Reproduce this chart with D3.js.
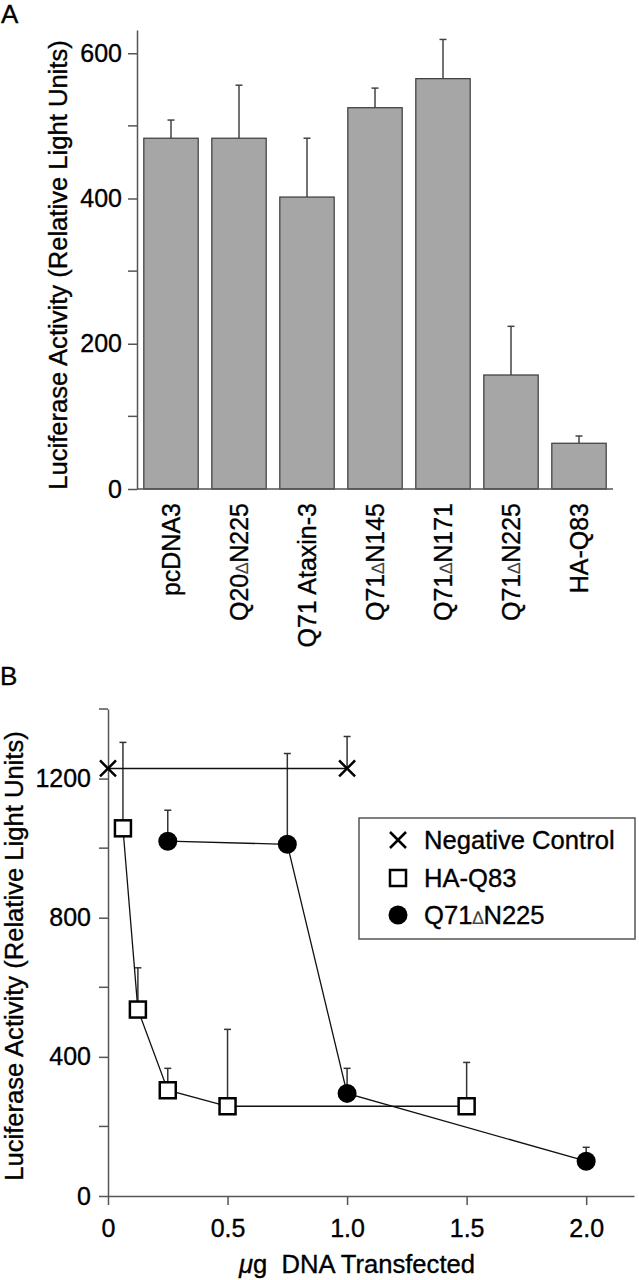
<!DOCTYPE html>
<html><head><meta charset="utf-8">
<script src="https://cdn.jsdelivr.net/npm/d3@7"></script>
<style>
body{margin:0;background:#fff;}
svg{display:block;font-family:"Liberation Sans",Arial,Helvetica,sans-serif;}
svg text{stroke:#000;stroke-width:0.35px;}
</style></head>
<body>
<svg id="chart" width="639" height="1280"></svg>
<script>
// ---------- Panel A data ----------
const categoriesA = ["pcDNA3", "Q20ΔN225", "Q71 Ataxin-3", "Q71ΔN145", "Q71ΔN171", "Q71ΔN225", "HA-Q83"];
const valuesA = [483, 483, 402, 525, 565, 157, 63];
const errTopA = [508, 556, 483, 552, 619, 224, 73];
const yTicksA = [0, 200, 400, 600];
const yMinorA = [100, 300, 500];

// ---------- Panel B data ----------
const negX = [0, 1.0];
const negY = [1229, 1229];
const negErrTop = [1229, 1321];
const haX = [0.0625, 0.125, 0.25, 0.5, 1.5];
const haY = [1057, 536, 304, 258, 258];
const haErrTop = [1304, 656, 367, 479, 384];
const qX = [0.25, 0.75, 1.0, 2.0];
const qY = [1020, 1011, 295, 100];
const qErrTop = [1109, 1272, 367, 140];
const xTicksB = [0, 0.5, 1.0, 1.5, 2.0];
const xTickLabelsB = ["0", "0.5", "1.0", "1.5", "2.0"];
const yTicksB = [0, 400, 800, 1200];
const yMinorB = [200, 600, 1000, 1400];
const legendLabels = ["Negative Control", "HA-Q83", "Q71ΔN225"];

const svg = d3.select("#chart");
svg.append("rect").attr("width", 639).attr("height", 1280).attr("fill", "#fff");
const axisCol = "#555";
const FS = 25;

// helper: write text with smaller Δ
function richText(sel, str) {
  const parts = str.split("Δ");
  parts.forEach((p, i) => {
    if (i > 0) sel.append("tspan").attr("font-size", 18).attr("fill", "#444").style("stroke-width", "0.1px").text("∆");
    sel.append("tspan").text(p);
  });
}

// ================= PANEL A =================
const xA = d3.scaleBand().domain(categoriesA).range([137, 613]).paddingInner(0.2).paddingOuter(0.1);
const yA = d3.scaleLinear().domain([0, 632]).range([489, 30]);

svg.append("text").attr("x", 1).attr("y", 23).attr("font-size", 26).text("A");

// bars
const gA = svg.append("g");
gA.selectAll("line.err").data(categoriesA).enter().append("line")
  .attr("x1", d => xA(d) + xA.bandwidth() / 2).attr("x2", d => xA(d) + xA.bandwidth() / 2)
  .attr("y1", (d, i) => yA(valuesA[i])).attr("y2", (d, i) => yA(errTopA[i]))
  .attr("stroke", "#444").attr("stroke-width", 1.5);
gA.selectAll("line.cap").data(categoriesA).enter().append("line")
  .attr("x1", d => xA(d) + xA.bandwidth() / 2 - 3.5).attr("x2", d => xA(d) + xA.bandwidth() / 2 + 3.5)
  .attr("y1", (d, i) => yA(errTopA[i])).attr("y2", (d, i) => yA(errTopA[i]))
  .attr("stroke", "#444").attr("stroke-width", 1.5);
gA.selectAll("rect.bar").data(categoriesA).enter().append("rect")
  .attr("x", d => xA(d)).attr("width", xA.bandwidth())
  .attr("y", (d, i) => yA(valuesA[i])).attr("height", (d, i) => yA(0) - yA(valuesA[i]))
  .attr("fill", "#a6a6a6").attr("stroke", "#3a3a3a").attr("stroke-width", 1.2);

// y axis A
const axA = svg.append("g").attr("transform", "translate(137,0)")
  .call(d3.axisLeft(yA).tickValues(yTicksA).tickSize(9).tickSizeOuter(0).tickPadding(6).tickFormat(d3.format("d")));
axA.select(".domain").attr("stroke", axisCol).attr("stroke-width", 1.5);
axA.selectAll(".tick line").attr("stroke", axisCol).attr("stroke-width", 1.5);
axA.selectAll(".tick text").attr("font-size", FS).attr("font-family", "Liberation Sans, Arial, sans-serif").attr("fill", "#000");
svg.append("g").selectAll("line").data(yMinorA).enter().append("line")
  .attr("x1", 128).attr("x2", 137).attr("y1", d => yA(d)).attr("y2", d => yA(d))
  .attr("stroke", axisCol).attr("stroke-width", 1.5);
// x axis line A
svg.append("line").attr("x1", 137).attr("x2", 613).attr("y1", yA(0)).attr("y2", yA(0))
  .attr("stroke", axisCol).attr("stroke-width", 1.5);

// category labels
categoriesA.forEach(c => {
  const cx = xA(c) + xA.bandwidth() / 2;
  const t = svg.append("text").attr("transform", `translate(${cx},503) rotate(-90)`)
    .attr("text-anchor", "end").attr("dy", "0.35em").attr("font-size", FS);
  richText(t, c);
});

// y title A
svg.append("text").attr("transform", "translate(67,265) rotate(-90)")
  .attr("text-anchor", "middle").attr("font-size", 25.6)
  .text("Luciferase Activity (Relative Light Units)");

// ================= PANEL B =================
const xB = d3.scaleLinear().domain([0, 2.2]).range([108, 634]);
const yB = d3.scaleLinear().domain([0, 1400]).range([1196, 709]);

svg.append("text").attr("x", 0).attr("y", 685).attr("font-size", 26).text("B");

// axes B
const axBy = svg.append("g").attr("transform", "translate(108,0)")
  .call(d3.axisLeft(yB).tickValues(yTicksB).tickSize(9).tickSizeOuter(0).tickPadding(8).tickFormat(d3.format("d")));
axBy.select(".domain").attr("stroke", axisCol).attr("stroke-width", 1.5);
axBy.selectAll(".tick line").attr("stroke", axisCol).attr("stroke-width", 1.5);
axBy.selectAll(".tick text").attr("font-size", FS).attr("font-family", "Liberation Sans, Arial, sans-serif").attr("fill", "#000");
svg.append("g").selectAll("line").data(yMinorB).enter().append("line")
  .attr("x1", 99).attr("x2", 108).attr("y1", d => yB(d)).attr("y2", d => yB(d))
  .attr("stroke", axisCol).attr("stroke-width", 1.5);

const axBx = svg.append("g").attr("transform", "translate(0,1196)")
  .call(d3.axisBottom(xB).tickValues(xTicksB).tickSize(9).tickSizeOuter(0).tickPadding(14)
    .tickFormat((d, i) => xTickLabelsB[i]));
axBx.select(".domain").attr("stroke", axisCol).attr("stroke-width", 1.5);
axBx.selectAll(".tick line").attr("stroke", axisCol).attr("stroke-width", 1.5);
axBx.selectAll(".tick text").attr("font-size", FS).attr("font-family", "Liberation Sans, Arial, sans-serif").attr("fill", "#000");

// x title B
const xt = svg.append("text").attr("x", 357).attr("y", 1273).attr("text-anchor", "middle").attr("font-size", 25.6);
xt.append("tspan").attr("font-style", "italic").text("μ");
xt.append("tspan").text("g\u00a0\u00a0DNA Transfected");

// y title B
svg.append("text").attr("transform", "translate(23,956) rotate(-90)")
  .attr("text-anchor", "middle").attr("font-size", 25.6)
  .text("Luciferase Activity (Relative Light Units)");

// error bars B
function errBars(xs, ys, tops) {
  xs.forEach((x, i) => {
    if (tops[i] <= ys[i]) return;
    svg.append("line").attr("x1", xB(x)).attr("x2", xB(x)).attr("y1", yB(ys[i])).attr("y2", yB(tops[i]))
      .attr("stroke", "#333").attr("stroke-width", 1.5);
    svg.append("line").attr("x1", xB(x) - 3.5).attr("x2", xB(x) + 3.5).attr("y1", yB(tops[i])).attr("y2", yB(tops[i]))
      .attr("stroke", "#333").attr("stroke-width", 1.5);
  });
}
errBars(negX, negY, negErrTop);
errBars(haX, haY, haErrTop);
errBars(qX, qY, qErrTop);

// lines
const line = d3.line().x(d => xB(d[0])).y(d => yB(d[1]));
function drawLine(xs, ys) {
  svg.append("path").attr("d", line(xs.map((x, i) => [x, ys[i]])))
    .attr("fill", "none").attr("stroke", "#111").attr("stroke-width", 1.3);
}
drawLine(negX, negY);
drawLine(haX, haY);
drawLine(qX, qY);

// markers
function drawX(cx, cy, h) {
  svg.append("path").attr("d", `M${cx - h},${cy - h}L${cx + h},${cy + h}M${cx - h},${cy + h}L${cx + h},${cy - h}`)
    .attr("stroke", "#000").attr("stroke-width", 2.5).attr("fill", "none");
}
function drawSq(cx, cy, s) {
  svg.append("rect").attr("x", cx - s / 2).attr("y", cy - s / 2).attr("width", s).attr("height", s)
    .attr("fill", "#fff").attr("stroke", "#000").attr("stroke-width", 2.5);
}
function drawCirc(cx, cy, r) {
  svg.append("circle").attr("cx", cx).attr("cy", cy).attr("r", r).attr("fill", "#000");
}
negX.forEach((x, i) => drawX(xB(x), yB(negY[i]), 8));
haX.forEach((x, i) => drawSq(xB(x), yB(haY[i]), 16));
qX.forEach((x, i) => drawCirc(xB(x), yB(qY[i]), 9.5));

// legend
svg.append("rect").attr("x", 359).attr("y", 818).attr("width", 276).attr("height", 121)
  .attr("fill", "#fff").attr("stroke", axisCol).attr("stroke-width", 1.5);
const legY = [840, 878, 915];
drawX(398, legY[0], 8);
drawSq(398, legY[1], 16);
drawCirc(398, legY[2], 9.5);
legendLabels.forEach((l, i) => {
  const t = svg.append("text").attr("x", 424).attr("y", legY[i]).attr("dy", "0.36em").attr("font-size", 25.6);
  richText(t, l);
});
</script>
</body></html>
